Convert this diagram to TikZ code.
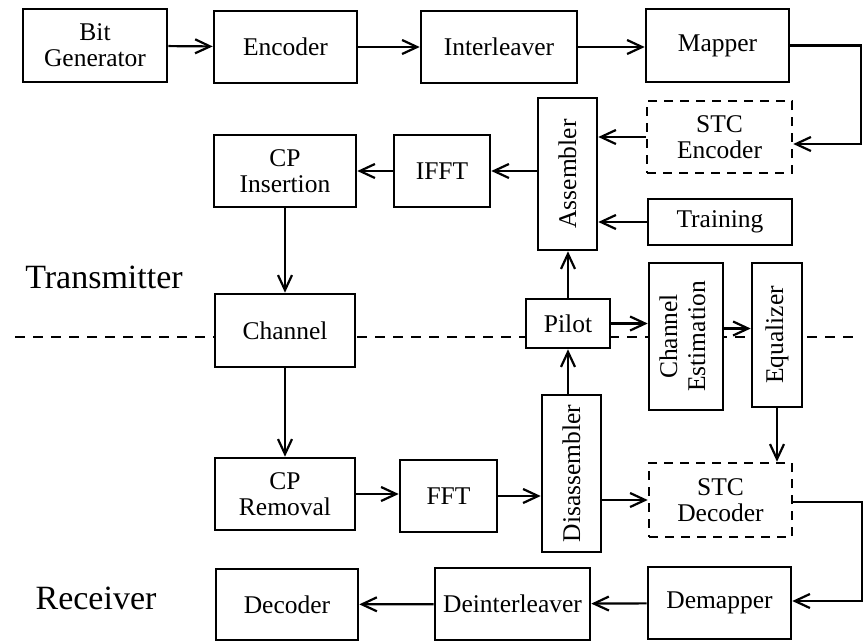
\documentclass[tikz,border=0pt]{standalone}
\usepackage{fontspec}
\setmainfont{Liberation Serif}
\usetikzlibrary{arrows.meta}

\begin{document}
\begin{tikzpicture}[x=1pt,y=-1pt,
    blk/.style={draw,line width=2.6pt,fill=white,inner sep=0pt,align=center,
        font=\fontsize{25.5}{26}\selectfont},
    stc/.style={blk,dash pattern=on 9pt off 7pt},
    side/.style={font=\fontsize{34}{36}\selectfont},
    conn/.style={-{Straight Barb[length=15pt,width=14pt,line width=2.2pt]},line width=2.2pt}]
\useasboundingbox (0,0) rectangle (863,641);
% border between the two halves
\draw[line width=2.2pt,dash pattern=on 10pt off 8pt] (15,337) -- (853,337);
\node[side] (tx) at (104,277) {Transmitter};
\node[side] (rx) at (96,598) {Receiver};
% transmitter
\node[blk,minimum width=144pt,minimum height=73pt] (bitgen) at (95,45.5) {Bit\\Generator};
\node[blk,minimum width=143pt,minimum height=72pt] (encoder) at (285.5,47) {Encoder};
\node[blk,minimum width=156pt,minimum height=72pt] (interleaver) at (499,47) {Interleaver};
\node[blk,minimum width=143pt,minimum height=73pt] (mapper) at (717.5,45.5) {Mapper};
\node[stc,minimum width=145pt,minimum height=72pt] (stcenc) at (719.5,137) {STC\\Encoder};
\node[blk,minimum width=59pt,minimum height=152pt] (assembler) at (567.5,174) {\rotatebox{90}{Assembler}};
\node[blk,minimum width=144pt,minimum height=46pt] (training) at (720,222) {Training};
\node[blk,minimum width=96pt,minimum height=72pt] (ifft) at (442,171) {IFFT};
\node[blk,minimum width=142pt,minimum height=72pt] (cpins) at (285,171) {CP\\Insertion};
\node[blk,minimum width=140pt,minimum height=73pt] (channel) at (285,330.5) {Channel};
\node[blk,minimum width=84pt,minimum height=49pt] (pilot) at (568,323.5) {Pilot};
\node[blk,minimum width=74pt,minimum height=147pt] (chest) at (686,336.5)
    {\rotatebox{90}{\begin{tabular}{@{}c@{}}Channel\\[2pt]Estimation\end{tabular}}};
\node[blk,minimum width=50pt,minimum height=144pt] (equal) at (777,335) {\rotatebox{90}{Equalizer}};
% receiver
\node[blk,minimum width=140pt,minimum height=72pt] (cprem) at (285,494) {CP\\Removal};
\node[blk,minimum width=97pt,minimum height=72pt] (fft) at (448.5,496) {FFT};
\node[blk,minimum width=59pt,minimum height=157pt] (disasm) at (571.5,473.5) {\rotatebox{90}{Disassembler}};
\node[stc,minimum width=143pt,minimum height=74pt] (stcdec) at (720.5,500) {STC\\Decoder};
\node[blk,minimum width=143pt,minimum height=72pt] (demapper) at (719.5,603) {Demapper};
\node[blk,minimum width=155pt,minimum height=72pt] (deint) at (512.5,604) {Deinterleaver};
\node[blk,minimum width=142pt,minimum height=71pt] (decoder) at (287,604.5) {Decoder};

\draw[conn] (bitgen) -- (encoder);
\draw[conn] (encoder) -- (interleaver);
\draw[conn] (interleaver) -- (interleaver -| mapper.west);
\draw[conn] (mapper.east) -- ++(71,0) |- ([yshift=-7pt]stcenc.east);
\draw[conn] (stcenc.west) -- (stcenc.west -| assembler.east);
\draw[conn] (training.west) -- (training.west -| assembler.east);
\draw[conn] (assembler.west |- ifft.east) -- (ifft.east);
\draw[conn] (ifft) -- (cpins);
\draw[conn] (cpins) -- (channel);
\draw[conn] (channel) -- (cprem);
\draw[conn] (cprem) -- (cprem -| fft.west);
\draw[conn] (fft.east) -- (fft.east -| disasm.west);
\draw[conn] (disasm.east |- stcdec.west) -- (stcdec.west);
\draw[conn] (pilot.south |- disasm.north) -- (pilot.south);
\draw[conn] (pilot.north) -- (pilot.north |- assembler.south);
\draw[conn] (pilot.east) -- (pilot.east -| chest.west);
\draw[conn] ([yshift=8pt]chest.east) -- ([yshift=8pt]chest.east -| equal.west);
\draw[conn] (equal.south) -- (equal.south |- stcdec.north);
\draw[conn] ([yshift=-2pt]stcdec.east) -- ++(69,0) |- ([yshift=2pt]demapper.east);
\draw[conn] (demapper) -- (deint);
\draw[conn] (deint) -- (decoder);
\end{tikzpicture}
\end{document}
